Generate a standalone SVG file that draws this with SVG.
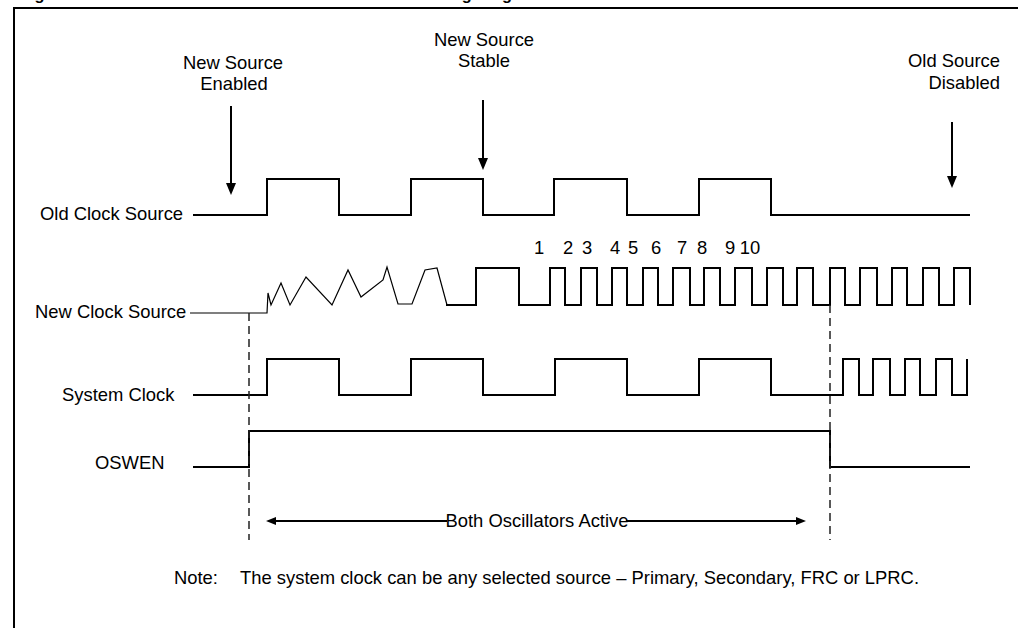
<svg xmlns="http://www.w3.org/2000/svg" width="1018" height="628" viewBox="0 0 1018 628">
  <style>
    text { font-family: "Liberation Sans", Arial, sans-serif; font-size: 18.4px; fill: #000; }
    .title { font-weight: bold; font-size: 16.4px; }
    .wave { fill: none; stroke: #000; stroke-width: 2; stroke-linejoin: miter; }
    .thin { fill: none; stroke: #000; stroke-width: 1.2; stroke-linejoin: miter; }
    .frame { fill: none; stroke: #000; stroke-width: 2; }
    .dash { fill: none; stroke: #222; stroke-width: 1.5; stroke-dasharray: 8 5; }
    .arrow { fill: none; stroke: #000; stroke-width: 2; }
    .mid { text-anchor: middle; }
    .end { text-anchor: end; }
  </style>
  <defs>
    <marker id="head" viewBox="0 0 12 10" refX="0" refY="5" markerWidth="12" markerHeight="10" markerUnits="userSpaceOnUse" orient="auto-start-reverse">
      <path d="M0,0 L12,5 L0,10 Z" fill="#000"/>
    </marker>
    <marker id="hhead" viewBox="0 0 10 8" refX="0" refY="4" markerWidth="10" markerHeight="8" markerUnits="userSpaceOnUse" orient="auto-start-reverse">
      <path d="M0,0 L10,4 L0,8 Z" fill="#000"/>
    </marker>
  </defs>

  <g id="frame">
    <text class="title" x="20" y="0">Figure 7-8:</text>
    <text class="title end" x="542" y="0">Clock Transition Timing Diagram</text>
    <path class="frame" d="M13,8 H1018 M14,8 V628"/>
  </g>

  <g id="old-clock-source">
    <text x="40" y="220">Old Clock Source</text>
    <path class="wave" d="M193,215 H267 V179 H339 V215 H411 V179 H483 V215 H554 V179 H627 V215 H699 V179 H771 V215 H970"/>
  </g>

  <g id="new-clock-source">
    <text x="35" y="318">New Clock Source</text>
    <path class="thin" d="M190,313 H267 L268,293 L271,305 L281,283 L290,305 L306,277 L332,305 L348,270 L361,297 L383,280 L387,267 L398,304 L412,304 L425,270 L437,268 L447,305"/>
    <path class="wave" d="M446,305 H476 V268 H519 V305 H550 V268 H565 V305 H581 V268 H597 V305 H612 V268 H627 V305 H643 V268 H658 V305 H673 V268 H690 V305 H704 V268 H720 V305 H735 V268 H752 V305 H767 V268 H783 V305 H797 V268 H813 V305 H830 V268 H845 V305 H860 V268 H877 V305 H892 V268 H907 V305 H923 V268 H939 V305 H954 V268 H970 V305"/>
    <g id="cycle-numbers" class="mid">
      <text x="539" y="254">1</text>
      <text x="568" y="254">2</text>
      <text x="587" y="254">3</text>
      <text x="615" y="254">4</text>
      <text x="633" y="254">5</text>
      <text x="656" y="254">6</text>
      <text x="682" y="254">7</text>
      <text x="702" y="254">8</text>
      <text x="730" y="254">9</text>
      <text x="750" y="254">10</text>
    </g>
  </g>

  <g id="system-clock">
    <text x="62" y="401">System Clock</text>
    <path class="wave" d="M193,395 H267 V359 H339 V395 H411 V359 H483 V395 H555 V359 H627 V395 H699 V359 H771 V395 H843 V359 H859 V395 H873 V359 H890 V395 H905 V359 H920 V395 H936 V359 H952 V395 H967 V359"/>
  </g>

  <g id="oswen">
    <text x="95" y="469">OSWEN</text>
    <path class="wave" d="M193,467 H249 V431 H830 V467 H970"/>
  </g>

  <g id="event-new-source-enabled">
    <text class="mid" x="233" y="69">New Source</text>
    <text class="mid" x="234" y="90">Enabled</text>
  </g>
  <g id="event-new-source-stable">
    <text class="mid" x="484" y="46">New Source</text>
    <text class="mid" x="484" y="67">Stable</text>
  </g>
  <g id="event-old-source-disabled">
    <text class="end" x="1000" y="67">Old Source</text>
    <text class="end" x="1000" y="89">Disabled</text>
  </g>

  <g id="connectors">
    <line class="arrow" x1="231" y1="106" x2="231" y2="183" marker-end="url(#head)"/>
    <line class="arrow" x1="483" y1="100" x2="483" y2="158" marker-end="url(#head)"/>
    <line class="arrow" x1="952" y1="122" x2="952" y2="176" marker-end="url(#head)"/>
    <line class="dash" x1="249" y1="313" x2="249" y2="540"/>
    <line class="dash" x1="830" y1="305" x2="830" y2="540"/>
    <line class="arrow" x1="276" y1="521" x2="447" y2="521" marker-start="url(#hhead)"/>
    <line class="arrow" x1="626" y1="521" x2="796" y2="521" marker-end="url(#hhead)"/>
  </g>

  <g id="span-label">
    <text class="mid" x="537" y="527">Both Oscillators Active</text>
  </g>

  <g id="note">
    <text x="174" y="584">Note:</text>
    <text x="240" y="584">The system clock can be any selected source – Primary, Secondary, FRC or LPRC.</text>
  </g>
</svg>
